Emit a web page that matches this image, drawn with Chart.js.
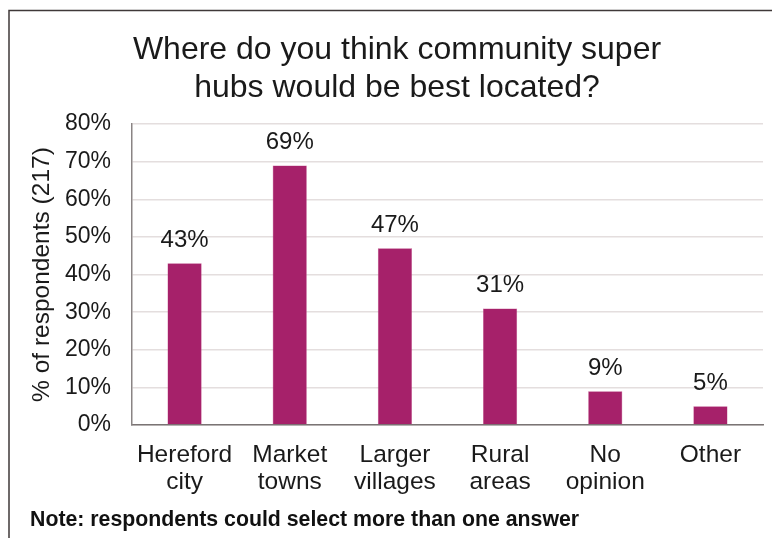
<!DOCTYPE html>
<html lang="en">
<head>
    <meta charset="utf-8" />
    <title>Community super hubs</title>
    <script src="https://cdn.jsdelivr.net/npm/chart.js"></script>
    <style>
        html, body { margin: 0; padding: 0; background: #fff; }
        .chart-wrap { width: 772px; height: 538px; position: relative; }
    </style>
</head>
<body>
    <div class="chart-wrap">
        <canvas id="hubsChart" width="772" height="538"></canvas>
    </div>

    <script>
        // Survey answers
        const categories = [['Hereford', 'city'], ['Market', 'towns'], ['Larger', 'villages'], ['Rural', 'areas'], ['No', 'opinion'], ['Other']];
        const percentValues = [43, 69, 47, 31, 9, 5];
        const yTicks = [0, 10, 20, 30, 40, 50, 60, 70, 80];
        const titleLines = ['Where do you think community super', 'hubs would be best located?'];
        const noteText = 'Note: respondents could select more than one answer';

        const FONT = '"Liberation Sans", Arial, sans-serif';
        const BAR_COLOR = '#a6216a';

        // Frame, heading and footnote (heading sits a little right of the canvas centre)
        const framePlugin = {
            id: 'frame',
            beforeDraw(chart) {
                const ctx = chart.ctx;
                ctx.save();
                ctx.fillStyle = '#fff';
                ctx.fillRect(0, 0, chart.width, chart.height);
                ctx.strokeStyle = '#3f3838';
                ctx.lineWidth = 1.5;
                ctx.strokeRect(9, 10.5, 900, 700);
                ctx.restore();
            },
            afterDraw(chart) {
                const ctx = chart.ctx;
                ctx.save();
                ctx.fillStyle = '#1a1a1a';
                ctx.textAlign = 'center';
                ctx.textBaseline = 'middle';
                ctx.font = '32px ' + FONT;
                titleLines.forEach((line, i) => ctx.fillText(line, 397, 50 + i * 38));

                ctx.font = 'bold 21.3px ' + FONT;
                ctx.fillStyle = '#111';
                ctx.textAlign = 'left';
                ctx.fillText(noteText, 30, 520);
                ctx.restore();
            }
        };

        // Percentage label above each bar
        const valueLabels = {
            id: 'valueLabels',
            afterDatasetsDraw(chart) {
                const ctx = chart.ctx;
                const meta = chart.getDatasetMeta(0);
                ctx.save();
                ctx.font = '24px ' + FONT;
                ctx.fillStyle = '#1a1a1a';
                ctx.textAlign = 'center';
                ctx.textBaseline = 'alphabetic';
                meta.data.forEach((bar, i) => {
                    ctx.fillText(percentValues[i] + '%', bar.x, bar.y - 16);
                });
                ctx.restore();
            }
        };

        new Chart(document.getElementById('hubsChart'), {
            type: 'bar',
            data: {
                labels: categories,
                datasets: [{
                    data: percentValues,
                    backgroundColor: BAR_COLOR,
                    borderColor: '#c0508a',
                    borderWidth: 0.5,
                    categoryPercentage: 1,
                    barPercentage: 0.325
                }]
            },
            plugins: [framePlugin, valueLabels],
            options: {
                responsive: false,
                animation: false,
                layout: { padding: { top: 124, right: 9, bottom: 25, left: 0 } },
                plugins: {
                    legend: { display: false },
                    tooltip: { enabled: false },
                    title: { display: false }
                },
                scales: {
                    x: {
                        grid: { display: false, drawTicks: false },
                        border: { color: '#7a7474', width: 1.5 },
                        ticks: {
                            color: '#1a1a1a',
                            font: { family: FONT, size: 24.5, lineHeight: 1.1 },
                            padding: 17,
                            maxRotation: 0
                        }
                    },
                    y: {
                        min: 0,
                        max: 80,
                        afterBuildTicks(scale) {
                            scale.ticks = yTicks.map(v => ({ value: v }));
                        },
                        afterFit(scale) { scale.width = 132; },
                        grid: { color: '#e4dede', lineWidth: 1.5, drawTicks: false },
                        border: { color: '#8a8484', width: 1.5 },
                        ticks: {
                            color: '#1a1a1a',
                            font: { family: FONT, size: 23 },
                            padding: 21,
                            callback: v => v + '%'
                        },
                        title: {
                            display: true,
                            text: '% of respondents (217)',
                            color: '#1a1a1a',
                            font: { family: FONT, size: 24.5 },
                            padding: { top: 28, bottom: 0 }
                        }
                    }
                }
            }
        });
    </script>
</body>
</html>
